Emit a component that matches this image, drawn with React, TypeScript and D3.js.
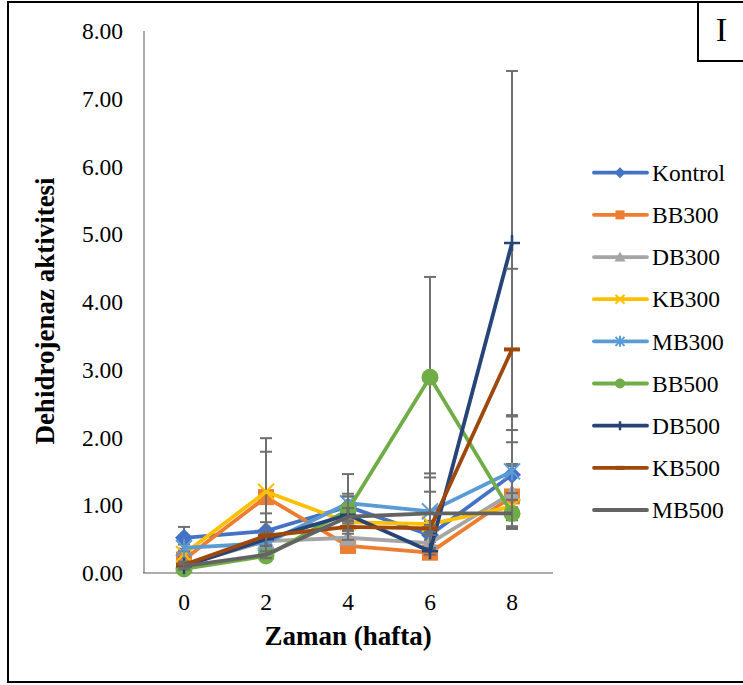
import React from "react";
import * as d3 from "d3";

const weeks = ["0", "2", "4", "6", "8"];
const yTicks = [0, 1, 2, 3, 4, 5, 6, 7, 8];
const seriesNames = ["Kontrol", "BB300", "DB300", "KB300", "MB300", "BB500", "DB500", "KB500", "MB500"];
const kontrol = [0.52, 0.62, 0.98, 0.56, 1.45];
const bb300 = [0.2, 1.12, 0.4, 0.3, 1.13];
const db300 = [0.12, 0.47, 0.52, 0.44, 1.18];
const kb300 = [0.28, 1.2, 0.75, 0.72, 0.98];
const mb300 = [0.37, 0.44, 1.03, 0.91, 1.5];
const bb500 = [0.06, 0.25, 0.93, 2.89, 0.88];
const db500 = [0.1, 0.5, 0.86, 0.32, 4.87];
const kb500 = [0.12, 0.55, 0.68, 0.66, 3.3];
const mb500 = [0.1, 0.27, 0.83, 0.88, 0.88];
const errKontrol = [0.16, 0.13, 0.48, 0.1, 0.48];
const errBB300 = [0.05, 0.67, 0.1, 0.05, 0.48];
const errDB300 = [0.03, 0.1, 0.1, 0.05, 0.4];
const errKB300 = [0.05, 0.79, 0.1, 0.05, 0.2];
const errMB300 = [0.05, 0.1, 0.1, 0.56, 0.81];
const errBB500 = [0.02, 0.05, 0.2, 1.48, 0.2];
const errDB500 = [0.05, 0.1, 0.1, 0.05, 2.54];
const errKB500 = [0.05, 0.33, 0.1, 0.05, 1.19];
const errMB500 = [0.03, 0.05, 0.34, 0.32, 0.2];

const seriesValues = [kontrol, bb300, db300, kb300, mb300, bb500, db500, kb500, mb500];
const seriesErrors = [errKontrol, errBB300, errDB300, errKB300, errMB300, errBB500, errDB500, errKB500, errMB500];
const colors = ["#4472C4", "#ED7D31", "#A5A5A5", "#FFC000", "#5B9BD5", "#70AD47", "#264478", "#9E480E", "#636363"];
const markers = ["diamond", "square", "triangle", "x", "asterisk", "circle", "plus", "dash", "none"];

const FONT = "'Liberation Serif', 'Times New Roman', serif";

function Marker({ type, cx, cy, s, color }: { type: string; cx: number; cy: number; s: number; color: string }) {
  const h = s / 2;
  switch (type) {
    case "diamond":
      return <path d={`M${cx},${cy - h - 1}L${cx + h + 1},${cy}L${cx},${cy + h + 1}L${cx - h - 1},${cy}Z`} fill={color} />;
    case "square":
      return <rect x={cx - h} y={cy - h} width={s} height={s} fill={color} />;
    case "triangle":
      return <path d={`M${cx},${cy - h - 1}L${cx + h + 1},${cy + h}L${cx - h - 1},${cy + h}Z`} fill={color} />;
    case "x":
      return (
        <path d={`M${cx - h},${cy - h}L${cx + h},${cy + h}M${cx - h},${cy + h}L${cx + h},${cy - h}`} stroke={color} strokeWidth={2} />
      );
    case "asterisk":
      return (
        <path
          d={`M${cx - h},${cy - h}L${cx + h},${cy + h}M${cx - h},${cy + h}L${cx + h},${cy - h}M${cx},${cy - h - 1}L${cx},${cy + h + 1}`}
          stroke={color}
          strokeWidth={2}
        />
      );
    case "circle":
      return <circle cx={cx} cy={cy} r={h + 0.5} fill={color} />;
    case "plus":
      return <path d={`M${cx - h},${cy}L${cx + h},${cy}M${cx},${cy - h}L${cx},${cy + h}`} stroke={color} strokeWidth={2.5} />;
    case "dash":
      return <path d={`M${cx - h},${cy}L${cx + h},${cy}`} stroke={color} strokeWidth={4} />;
    default:
      return null;
  }
}

export default function App() {
  const W = 743;
  const H = 685;
  const x = d3.scalePoint<string>().domain(weeks).range([143, 553]).padding(0.5);
  const y = d3.scaleLinear().domain([0, 8]).range([573, 31]);
  const line = d3
    .line<number>()
    .x((_, i) => x(weeks[i]) as number)
    .y((d) => y(d));

  const legendY = d3.scalePoint<string>().domain(seriesNames).range([172.7, 510]);

  return (
    <svg width={W} height={H} style={{ position: "absolute", left: 0, top: 0, background: "#fff" }}>
      <rect x={0} y={0} width={W} height={H} fill="#fff" />
      {/* outer frame */}
      <rect x={8} y={2} width={W + 20} height={680} fill="none" stroke="#000" strokeWidth={2} />
      {/* label box */}
      <rect x={698} y={2} width={80} height={59} fill="none" stroke="#000" strokeWidth={2} />
      <text x={721.5} y={41} fontFamily={FONT} fontSize={34} textAnchor="middle">I</text>

      {/* axes */}
      <line x1={144} x2={144} y1={31} y2={573} stroke="#595959" strokeWidth={1} />
      <line x1={143} x2={553} y1={573} y2={573} stroke="#595959" strokeWidth={1} />
      {yTicks.map((t) => (
        <text key={t} x={123} y={y(t)} dy="0.35em" textAnchor="end" fontFamily={FONT} fontSize={23.5}>
          {t.toFixed(2)}
        </text>
      ))}
      {weeks.map((w) => (
        <text key={w} x={x(w)} y={602} dy="0.35em" textAnchor="middle" fontFamily={FONT} fontSize={23.5}>
          {w}
        </text>
      ))}
      <text x={348} y={636} dy="0.35em" textAnchor="middle" fontFamily={FONT} fontSize={27} fontWeight="bold">
        Zaman (hafta)
      </text>
      <text
        transform={`translate(45,311) rotate(-90)`}
        dy="0.35em"
        textAnchor="middle"
        fontFamily={FONT}
        fontSize={27}
        fontWeight="bold"
      >
        Dehidrojenaz aktivitesi
      </text>

      {/* series */}
      {seriesValues.map((vals, si) => (
        <g key={seriesNames[si]}>
          {vals.map((v, i) => {
            const cx = x(weeks[i]) as number;
            const e = seriesErrors[si][i];
            return (
              <g key={i} stroke="#6f6f6f" strokeWidth={2}>
                <line x1={cx} x2={cx} y1={y(v + e)} y2={y(Math.max(0, v - e))} />
                <line x1={cx - 6} x2={cx + 6} y1={y(v + e)} y2={y(v + e)} />
                {v - e > 0 && <line x1={cx - 6} x2={cx + 6} y1={y(v - e)} y2={y(v - e)} />}
              </g>
            );
          })}
          <path d={line(vals) || ""} fill="none" stroke={colors[si]} strokeWidth={3.8} strokeLinejoin="round" />
          {vals.map((v, i) => (
            <Marker key={i} type={markers[si]} cx={x(weeks[i]) as number} cy={y(v)} s={16} color={colors[si]} />
          ))}
        </g>
      ))}

      {/* legend */}
      {seriesNames.map((n, si) => {
        const ly = legendY(n) as number;
        return (
          <g key={n}>
            <line x1={594} x2={647} y1={ly} y2={ly} stroke={colors[si]} strokeWidth={3.8} strokeLinecap="round" />
            <Marker type={markers[si]} cx={620} cy={ly} s={9} color={colors[si]} />
            <text x={652} y={ly} dy="0.35em" fontFamily={FONT} fontSize={23.5}>
              {n}
            </text>
          </g>
        );
      })}
    </svg>
  );
}
